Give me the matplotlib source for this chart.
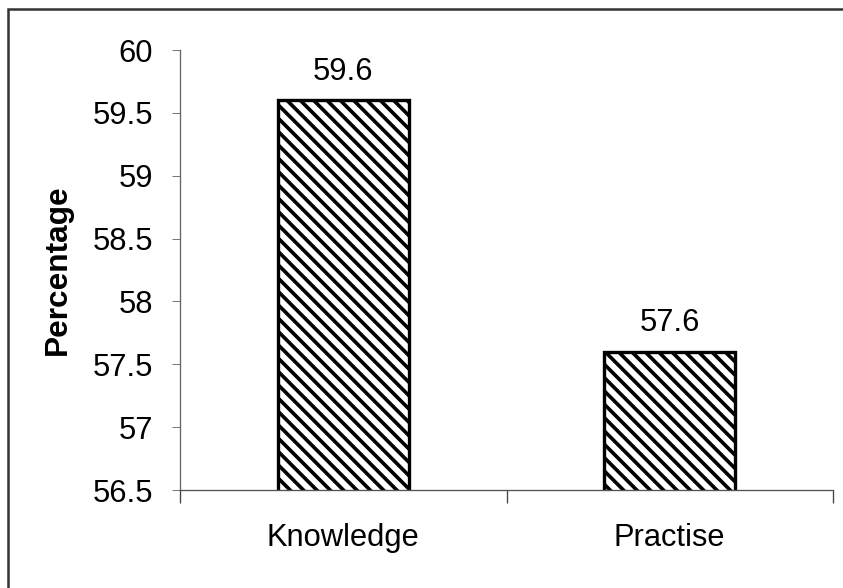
import matplotlib
matplotlib.use("Agg")
import matplotlib.pyplot as plt
from matplotlib.patches import Rectangle

categories = ["Knowledge", "Practise"]
values = [59.6, 57.6]
yticks = [56.5, 57, 57.5, 58, 58.5, 59, 59.5, 60]
ytick_labels = ["56.5", "57", "57.5", "58", "58.5", "59", "59.5", "60"]

DPI = 120
FS = 18.5
plt.rcParams['font.family'] = ['Liberation Sans', 'DejaVu Sans']
plt.rcParams['hatch.linewidth'] = 2.2

fig = plt.figure(figsize=(843 / DPI, 588 / DPI), dpi=DPI)
ax = fig.add_axes([180 / 843, 1 - 490 / 588, (833 - 180) / 843, (490 - 50) / 588])

x = list(range(len(categories)))
bars = ax.bar(x, values, width=0.40, bottom=0, color='white', edgecolor='black',
              linewidth=2.0, hatch='\\\\\\')

ax.set_ylim(56.5, 60)
ax.set_xlim(-0.5, len(categories) - 0.5)
ax.set_yticks(yticks)
ax.set_yticklabels(ytick_labels, fontsize=FS)
ax.set_xticks(x)
ax.set_xticklabels(categories, fontsize=FS)
ax.set_xticks([-0.5, 0.5, 1.5], minor=True)
ax.tick_params(axis='x', which='major', length=0, pad=20)
ax.tick_params(axis='x', which='minor', length=8, width=0.8, color='#444', direction='out')
ax.tick_params(axis='y', which='major', length=5, width=0.6, color='#777', pad=11)

for s in ['top', 'right']:
    ax.spines[s].set_visible(False)
ax.spines['left'].set_color('#666')
ax.spines['left'].set_linewidth(0.8)
ax.spines['bottom'].set_color('#555')
ax.spines['bottom'].set_linewidth(0.8)

for xi, v in zip(x, values):
    ax.annotate(f"{v}", (xi, v), xytext=(0, 17), textcoords='offset points',
                ha='center', va='center', fontsize=FS)

ax.set_ylabel("Percentage", fontsize=19, fontweight='bold', labelpad=12)

# outer frame
fig.patches.append(Rectangle((8 / 843, -0.05), 1.1, 1 - 9 / 588 + 0.05, transform=fig.transFigure,
                             fill=False, edgecolor='#333', linewidth=1.5))

fig.savefig("out.png", dpi=DPI, facecolor='white')
